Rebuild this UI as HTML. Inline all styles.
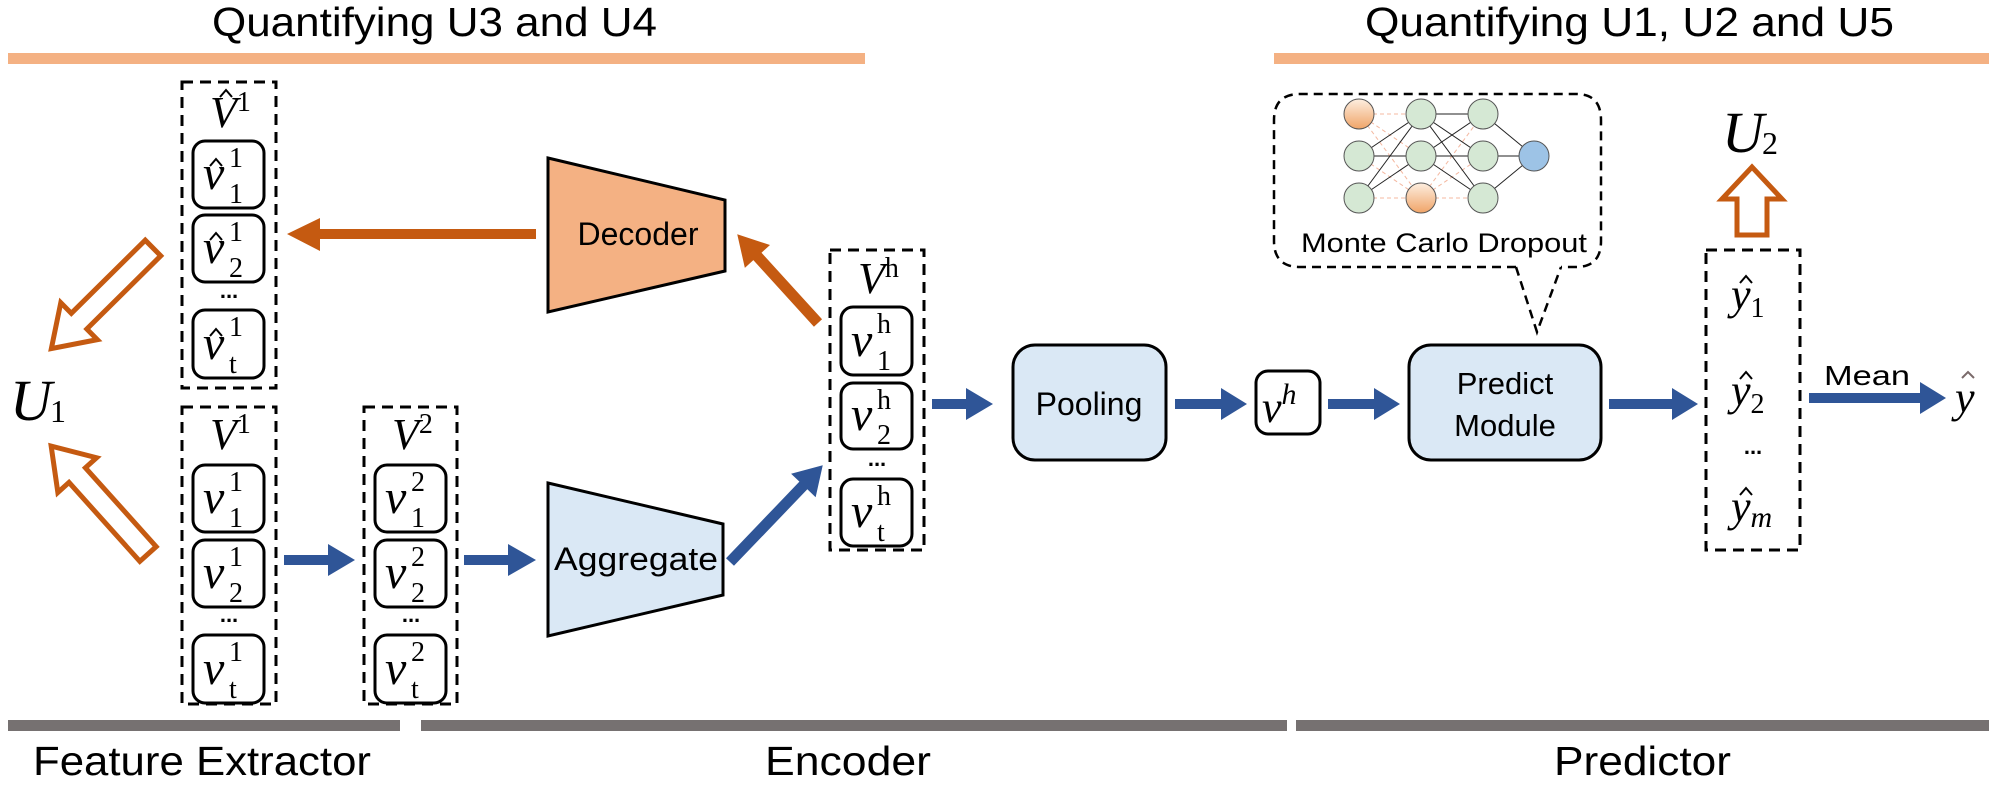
<!DOCTYPE html>
<html><head><meta charset="utf-8"><style>
html,body{margin:0;padding:0;background:#fff;}
svg{display:block;}
.s{font-family:"Liberation Sans",sans-serif;}
.m{font-family:"Liberation Serif",serif;font-style:italic;}
.r{font-family:"Liberation Serif",serif;font-style:normal;}
</style></head><body>
<svg width="1993" height="785" viewBox="0 0 1993 785" xmlns="http://www.w3.org/2000/svg">
<defs>
<linearGradient id="og" x1="0" y1="0" x2="0" y2="1"><stop offset="0" stop-color="#fdeee0"/><stop offset="1" stop-color="#f0a468"/></linearGradient>
<g id="hat"><path d="M-6,6 L0,-1 L6,6" fill="none" stroke="#000" stroke-width="2"/></g>
</defs>

<rect x="8" y="53" width="857" height="11" fill="#f4b183"/>
<rect x="1274" y="53" width="715" height="11" fill="#f4b183"/>
<text class="s" x="212" y="36" font-size="41" textLength="445" lengthAdjust="spacingAndGlyphs">Quantifying U3 and U4</text>
<text class="s" x="1365" y="36" font-size="41" textLength="529" lengthAdjust="spacingAndGlyphs">Quantifying U1, U2 and U5</text>

<rect x="8" y="720" width="392" height="11" fill="#767171"/>
<rect x="421" y="720" width="866" height="11" fill="#767171"/>
<rect x="1296" y="720" width="693" height="11" fill="#767171"/>
<text class="s" x="33" y="775" font-size="41" textLength="338" lengthAdjust="spacingAndGlyphs">Feature Extractor</text>
<text class="s" x="765" y="775" font-size="41" textLength="166" lengthAdjust="spacingAndGlyphs">Encoder</text>
<text class="s" x="1554" y="775" font-size="41" textLength="177" lengthAdjust="spacingAndGlyphs">Predictor</text>

<g fill="none" stroke="#000" stroke-width="3" stroke-dasharray="11,7">
<rect x="182" y="82" width="94" height="306"/>
<rect x="182" y="407" width="94" height="297"/>
<rect x="364" y="407" width="93" height="297"/>
<rect x="830" y="250" width="94" height="300"/>
<rect x="1706" y="250" width="94" height="300"/>
</g>

<g fill="#fff" stroke="#000" stroke-width="3">
<rect x="193" y="141" width="71" height="67" rx="12"/>
<rect x="193" y="215" width="71" height="67" rx="12"/>
<rect x="193" y="310" width="71" height="68" rx="12"/>
<rect x="193" y="465" width="71" height="67" rx="12"/>
<rect x="193" y="540" width="71" height="67" rx="12"/>
<rect x="193" y="635" width="71" height="68" rx="12"/>
<rect x="375" y="465" width="71" height="67" rx="12"/>
<rect x="375" y="540" width="71" height="67" rx="12"/>
<rect x="375" y="635" width="71" height="68" rx="12"/>
<rect x="841" y="307" width="71" height="68" rx="12"/>
<rect x="841" y="383" width="71" height="66" rx="12"/>
<rect x="841" y="479" width="71" height="67" rx="12"/>
<rect x="1256" y="371" width="64" height="63" rx="12"/>
</g>

<text class="m" x="210" y="127" font-size="44">V<tspan class="r" font-size="28" dy="-16">1</tspan></text>
<use href="#hat" x="226" y="91"/>
<text class="m" x="210" y="449" font-size="44">V<tspan class="r" font-size="28" dy="-16">1</tspan></text>
<text class="m" x="392" y="449" font-size="44">V<tspan class="r" font-size="28" dy="-16">2</tspan></text>
<text class="m" x="858" y="293" font-size="44">V<tspan class="r" font-size="28" dy="-16">h</tspan></text>

<g class="m" font-size="48">
<text x="203" y="189">v</text><text x="203" y="263">v</text><text x="203" y="359">v</text>
<text x="203" y="513">v</text><text x="203" y="588">v</text><text x="203" y="684">v</text>
<text x="385" y="513">v</text><text x="385" y="588">v</text><text x="385" y="684">v</text>
<text x="851" y="356">v</text><text x="851" y="430">v</text><text x="851" y="527">v</text>
</g>
<g class="r" font-size="28">
<text x="229" y="167">1</text><text x="229" y="203">1</text>
<text x="229" y="241">1</text><text x="229" y="277">2</text>
<text x="229" y="336">1</text><text x="229" y="373">t</text>
<text x="229" y="491">1</text><text x="229" y="527">1</text>
<text x="229" y="566">1</text><text x="229" y="602">2</text>
<text x="229" y="661">1</text><text x="229" y="698">t</text>
<text x="411" y="491">2</text><text x="411" y="527">1</text>
<text x="411" y="566">2</text><text x="411" y="602">2</text>
<text x="411" y="661">2</text><text x="411" y="698">t</text>
<text x="877" y="333">h</text><text x="877" y="370">1</text>
<text x="877" y="409">h</text><text x="877" y="444">2</text>
<text x="877" y="505">h</text><text x="877" y="541">t</text>
</g>
<use href="#hat" x="216" y="160"/><use href="#hat" x="216" y="234"/><use href="#hat" x="216" y="330"/>

<g class="s" font-size="22" font-weight="bold" text-anchor="middle">
<text x="229" y="298">...</text><text x="229" y="622">...</text><text x="411" y="622">...</text><text x="877" y="466">...</text><text x="1753" y="454">...</text>
</g>

<polygon points="548,158 725,200 725,271 548,312" fill="#f4b183" stroke="#000" stroke-width="3"/>
<text class="s" x="638" y="245" font-size="32" text-anchor="middle">Decoder</text>
<polygon points="548,483 723,524 723,595 548,636" fill="#dae8f5" stroke="#000" stroke-width="3"/>
<text class="s" x="636" y="570" font-size="32" text-anchor="middle" textLength="164" lengthAdjust="spacingAndGlyphs">Aggregate</text>

<rect x="1013" y="345" width="153" height="115" rx="22" fill="#dae8f5" stroke="#000" stroke-width="3"/>
<text class="s" x="1089" y="415" font-size="32" text-anchor="middle">Pooling</text>
<rect x="1409" y="345" width="192" height="115" rx="22" fill="#dae8f5" stroke="#000" stroke-width="3"/>
<text class="s" x="1505" y="394" font-size="31" text-anchor="middle">Predict</text>
<text class="s" x="1505" y="436" font-size="31" text-anchor="middle">Module</text>

<text class="m" x="1262" y="422" font-size="44">v<tspan font-size="30" dy="-18">h</tspan></text>

<g class="m" font-size="44">
<text x="1731" y="309">y<tspan class="r" font-size="28" dy="8">1</tspan></text>
<text x="1731" y="405">y<tspan class="r" font-size="28" dy="8">2</tspan></text>
<text x="1731" y="521">y<tspan font-size="30" dy="6">m</tspan></text>
<text x="1955" y="412">y</text>
</g>
<use href="#hat" x="1746" y="277"/><use href="#hat" x="1746" y="373"/><use href="#hat" x="1746" y="489"/>
<path d="M1962,378 L1968,372 L1974,378" fill="none" stroke="#7a6a6a" stroke-width="2"/>
<text class="s" x="1824" y="385" font-size="28" textLength="86" lengthAdjust="spacingAndGlyphs">Mean</text>

<text class="m" x="10" y="420" font-size="58">U</text>
<text class="r" x="50" y="422" font-size="32">1</text>
<text class="m" x="1722" y="152" font-size="58">U</text>
<text class="r" x="1762" y="154" font-size="32">2</text>

<g fill="#2f5597">
<polygon points="284,555 328,555 328,544 355,560 328,576 328,565 284,565"/>
<polygon points="464,555 508,555 508,544 536,560 508,576 508,565 464,565"/>
<polygon points="932,399 966,399 966,388 993,404 966,420 966,409 932,409"/>
<polygon points="1175,399 1221,399 1221,388 1247,404 1221,420 1221,409 1175,409"/>
<polygon points="1328,399 1374,399 1374,388 1400,404 1374,420 1374,409 1328,409"/>
<polygon points="1609,399 1672,399 1672,388 1698,404 1672,420 1672,409 1609,409"/>
<polygon points="1809,393 1920,393 1920,382 1946,398 1920,414 1920,403 1809,403"/>
<g transform="translate(730,562) rotate(-46.2)"><polygon points="0,-5.5 106,-5.5 106,-17 134,0 106,17 106,5.5 0,5.5"/></g>
</g>

<g fill="#c55a11">
<polygon points="536,229 320,229 320,218 287,234 320,251 320,239 536,239"/>
<g transform="translate(818,323) rotate(-132.3)"><polygon points="0,-5.5 90,-5.5 90,-17 120,0 90,17 90,5.5 0,5.5"/></g>
</g>

<g fill="#fff" stroke="#c55a11" stroke-width="5" stroke-linejoin="miter">
<g transform="translate(153,248) rotate(135.3)"><polygon points="0,-11 104,-11 104,-26 143,0 104,26 104,11 0,11"/></g>
<g transform="translate(148,554) rotate(-131.9)"><polygon points="0,-11 106,-11 106,-26 145,0 106,26 106,11 0,11"/></g>
<g transform="translate(1752,235) rotate(-90)"><polygon points="0,-15 36,-15 36,-30 68,0 36,30 36,15 0,15"/></g>
</g>

<path d="M1516,267 L1300,267 Q1274,267 1274,241 L1274,120 Q1274,94 1300,94 L1576,94 Q1601,94 1601,120 L1601,241 Q1601,267 1576,267 L1561,267" fill="none" stroke="#000" stroke-width="2.5" stroke-dasharray="9,6"/>
<path d="M1516,267 L1537,332 L1561,267" fill="none" stroke="#000" stroke-width="2.5" stroke-dasharray="9,6"/>
<text class="s" x="1301" y="252" font-size="27" textLength="286" lengthAdjust="spacingAndGlyphs">Monte Carlo Dropout</text>

<g stroke-width="1">
<g stroke="#f4b8a0" stroke-dasharray="4,3">
<line x1="1359" y1="114" x2="1421" y2="114"/><line x1="1359" y1="114" x2="1421" y2="156"/><line x1="1359" y1="114" x2="1421" y2="198"/>
<line x1="1359" y1="156" x2="1421" y2="198"/><line x1="1359" y1="198" x2="1421" y2="198"/>
<line x1="1421" y1="198" x2="1483" y2="114"/><line x1="1421" y1="198" x2="1483" y2="156"/><line x1="1421" y1="198" x2="1483" y2="198"/>
</g>
<g stroke="#222">
<line x1="1359" y1="156" x2="1421" y2="114"/><line x1="1359" y1="156" x2="1421" y2="156"/>
<line x1="1359" y1="198" x2="1421" y2="114"/><line x1="1359" y1="198" x2="1421" y2="156"/>
<line x1="1421" y1="114" x2="1483" y2="114"/><line x1="1421" y1="114" x2="1483" y2="156"/><line x1="1421" y1="114" x2="1483" y2="198"/>
<line x1="1421" y1="156" x2="1483" y2="114"/><line x1="1421" y1="156" x2="1483" y2="156"/><line x1="1421" y1="156" x2="1483" y2="198"/>
<line x1="1483" y1="114" x2="1534" y2="156"/><line x1="1483" y1="156" x2="1534" y2="156"/><line x1="1483" y1="198" x2="1534" y2="156"/>
</g>
</g>
<g stroke="#555" stroke-width="1">
<circle cx="1359" cy="114" r="15" fill="url(#og)"/>
<circle cx="1359" cy="156" r="15" fill="#d5e8d4"/>
<circle cx="1359" cy="198" r="15" fill="#d5e8d4"/>
<circle cx="1421" cy="114" r="15" fill="#d5e8d4"/>
<circle cx="1421" cy="156" r="15" fill="#d5e8d4"/>
<circle cx="1421" cy="198" r="15" fill="url(#og)"/>
<circle cx="1483" cy="114" r="15" fill="#d5e8d4"/>
<circle cx="1483" cy="156" r="15" fill="#d5e8d4"/>
<circle cx="1483" cy="198" r="15" fill="#d5e8d4"/>
<circle cx="1534" cy="156" r="15" fill="#9dc3e6"/>
</g>
</svg>
</body></html>
